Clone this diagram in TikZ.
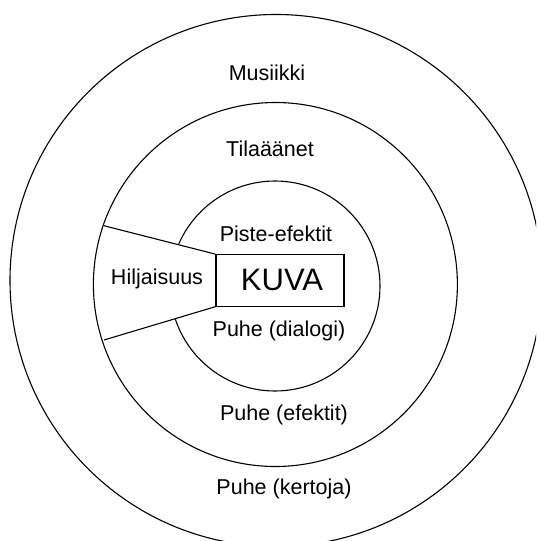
\documentclass[tikz,border=0pt]{standalone}
\usepackage{fontspec}
\setmainfont{Liberation Sans}
\begin{document}
\begin{tikzpicture}[x=1pt,y=-1pt,
  ring/.style={draw=black,line width=1.1pt},
  lbl/.style={font=\fontsize{21.5}{25}\selectfont,inner sep=0pt},
  bigbox/.style={draw=black,line width=1.1pt,minimum width=127.6pt,minimum height=51.4pt,inner sep=0pt}]
\useasboundingbox[fill=white] (0,0) rectangle (536,541);
\clip (0,0) rectangle (536,541);
\draw[ring] (276,280.5) circle[radius=266];
\draw[ring] (275.4,284.5) circle[radius=182];
\draw[ring] (275,286) circle[radius=105];
\node[bigbox] (kuva) at (279.8,280.4) {};
\node[lbl,font=\fontsize{31}{36}\selectfont] (kuvat) at (282,280) {KUVA};
\coordinate (wtop) at (103.5,225.6);
\coordinate (wbot) at (104,340);
\fill[white] (wtop) -- (kuva.north west) -- (kuva.south west) -- (wbot) -- cycle;
\draw[ring] (wtop) -- (kuva.north west);
\draw[ring] (wbot) -- (kuva.south west);
\draw[ring] (kuva.north west) rectangle (kuva.south east);
\node[lbl] (mus) at (267,72.5) {Musiikki};
\node[lbl] (tila) at (270,149) {Tilaäänet};
\node[lbl] (piste) at (276,234) {Piste-efektit};
\node[lbl] (hilj) at (157,279) {Hiljaisuus};
\node[lbl] (dial) at (279,331) {Puhe (dialogi)};
\node[lbl] (efek) at (284,415) {Puhe (efektit)};
\node[lbl] (kert) at (284,489) {Puhe (kertoja)};
\end{tikzpicture}
\end{document}
